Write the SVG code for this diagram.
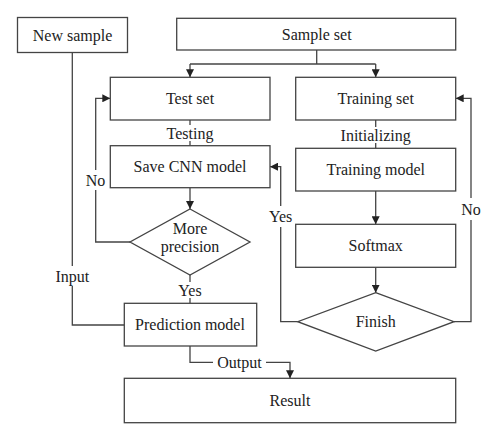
<svg xmlns="http://www.w3.org/2000/svg" width="500" height="441" viewBox="0 0 500 441">
<defs>
<marker id="arr" viewBox="0 0 10 10" refX="10" refY="5" markerWidth="8" markerHeight="8" markerUnits="userSpaceOnUse" orient="auto">
<path d="M0,0 L10,5 L0,10 z" fill="#222"/>
</marker>
<style>
.box{fill:#fff;stroke:#444;stroke-width:1.3}
.ln{fill:none;stroke:#444;stroke-width:1.3}
.t{font-family:"Liberation Serif","Times New Roman",serif;font-size:16px;fill:#222;text-anchor:middle;dominant-baseline:central}
</style>
</defs>
<rect width="500" height="441" fill="#fff"/>
<g id="connectors">
<path class="ln" d="M316.7,50 V64"/>
<path class="ln" d="M190,64 H375.7"/>
<path class="ln" d="M190,64 V77.3" marker-end="url(#arr)"/>
<path class="ln" d="M375.7,64 V77.3" marker-end="url(#arr)"/>
<path class="ln" d="M190,120 V125"/>
<path class="ln" d="M190,141 V145.7"/>
<path class="ln" d="M375.7,120 V127"/>
<path class="ln" d="M375.7,143 V148.3"/>
<path class="ln" d="M190,187.7 V209" marker-end="url(#arr)"/>
<path class="ln" d="M130,242 H95.7 V190"/>
<path class="ln" d="M95.7,170 V98.3 H110.3" marker-end="url(#arr)"/>
<path class="ln" d="M190,275 V282"/>
<path class="ln" d="M190,298 V303.3"/>
<path class="ln" d="M72.3,52.3 V266"/>
<path class="ln" d="M72.3,286 V325 H124.3"/>
<path class="ln" d="M190,346 V362.3 H213"/>
<path class="ln" d="M266,362.3 H290 V378.3" marker-end="url(#arr)"/>
<path class="ln" d="M375.7,191 V224.3" marker-end="url(#arr)"/>
<path class="ln" d="M375.7,267.3 V292.7" marker-end="url(#arr)"/>
<path class="ln" d="M297.7,321.7 H280.7 V227"/>
<path class="ln" d="M280.7,206 V166.7 H270" marker-end="url(#arr)"/>
<path class="ln" d="M454,321.7 H471 V220"/>
<path class="ln" d="M471,198 V98.3 H455.7" marker-end="url(#arr)"/>
<text class="t" x="190" y="133">Testing</text>
<text class="t" x="375.7" y="135">Initializing</text>
<text class="t" x="95.5" y="180">No</text>
<text class="t" x="190" y="290">Yes</text>
<text class="t" x="72.3" y="276">Input</text>
<text class="t" x="239.5" y="362">Output</text>
<text class="t" x="280.7" y="216.5">Yes</text>
<text class="t" x="471" y="209">No</text>
</g>
<g id="new-sample"><rect class="box" x="17.5" y="17.5" width="110" height="35"/><text class="t" x="72.5" y="35">New sample</text></g>
<g id="sample-set"><rect class="box" x="176.7" y="18.3" width="279" height="31.7"/><text class="t" x="316.7" y="34">Sample set</text></g>
<g id="test-set"><rect class="box" x="110.3" y="77.3" width="159.7" height="42.7"/><text class="t" x="190" y="98.5">Test set</text></g>
<g id="training-set"><rect class="box" x="295.7" y="77.3" width="160" height="42.7"/><text class="t" x="375.7" y="98.5">Training set</text></g>
<g id="save-cnn"><rect class="box" x="110.3" y="145.7" width="159.7" height="42"/><text class="t" x="190" y="166.5">Save CNN model</text></g>
<g id="training-model"><rect class="box" x="295.7" y="148.3" width="160" height="42.7"/><text class="t" x="375.7" y="169.5">Training model</text></g>
<g id="more-precision"><polygon class="box" points="190,209 250,242 190,275 130,242"/><text class="t" x="190" y="228">More</text><text class="t" x="190" y="246">precision</text></g>
<g id="softmax"><rect class="box" x="295.7" y="224.3" width="160" height="43"/><text class="t" x="375.7" y="245.5">Softmax</text></g>
<g id="finish"><polygon class="box" points="375.7,292.7 454,321.7 375.7,351 297.7,321.7"/><text class="t" x="375.7" y="321.5">Finish</text></g>
<g id="prediction-model"><rect class="box" x="124.3" y="303.3" width="132.4" height="42.7"/><text class="t" x="190" y="324.5">Prediction model</text></g>
<g id="result"><rect class="box" x="124.3" y="378.3" width="331.4" height="44.4"/><text class="t" x="290" y="400">Result</text></g>
</svg>
